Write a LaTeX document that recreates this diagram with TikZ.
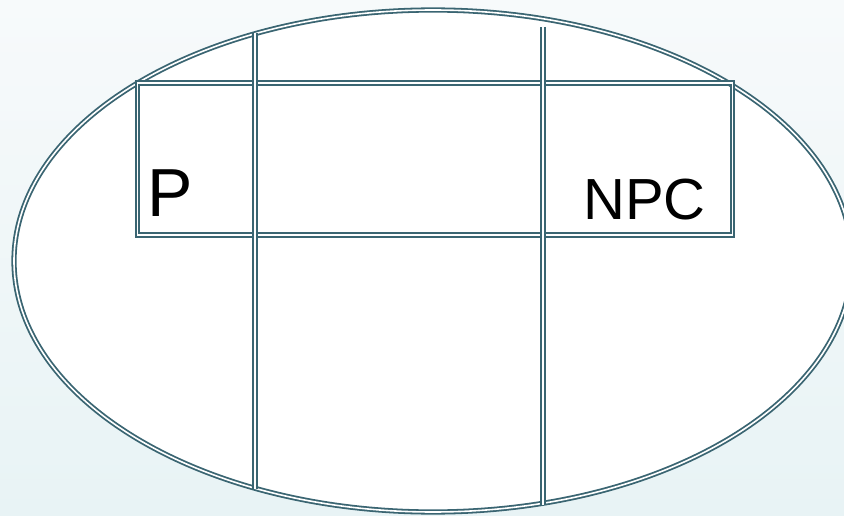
\documentclass[tikz,border=0pt]{standalone}
\usepackage{fontspec}
\setmainfont{Liberation Sans}
\usetikzlibrary{shapes.geometric}
\definecolor{edge}{HTML}{3A6572}
\definecolor{bgtop}{HTML}{F7FAFB}
\definecolor{bgbot}{HTML}{E8F3F5}
\tikzset{
  dbl/.style={draw=edge, line width=1.8pt, double=white, double distance=1.6pt},
  lbl/.style={inner sep=0pt, anchor=base west, text=black}
}
\begin{document}
\begin{tikzpicture}[x=1pt,y=-1pt]
\useasboundingbox (0,0) rectangle (844,516);
\shade[top color=bgtop, bottom color=bgbot] (0,0) rectangle (844,516);
\node[ellipse, dbl, fill=white, minimum width=838pt, minimum height=502pt, inner sep=0pt] (E) at (433,261) {};
\node[dbl, rectangle, minimum width=595pt, minimum height=152pt, inner sep=0pt] (R) at (435,159) {};
\coordinate (L1t) at (255,33);
\coordinate (L1b) at (255,489);
\coordinate (L2t) at (543,27);
\coordinate (L2b) at (543,505);
\draw[dbl] (L1t) -- (L1b);
\draw[dbl] (L2t) -- (L2b);
\node[lbl, font=\fontsize{68}{68}\selectfont] (P) at (147,216) {P};
\node[lbl, font=\fontsize{58}{58}\selectfont] (NPC) at (583,219) {NPC};
\end{tikzpicture}
\end{document}
